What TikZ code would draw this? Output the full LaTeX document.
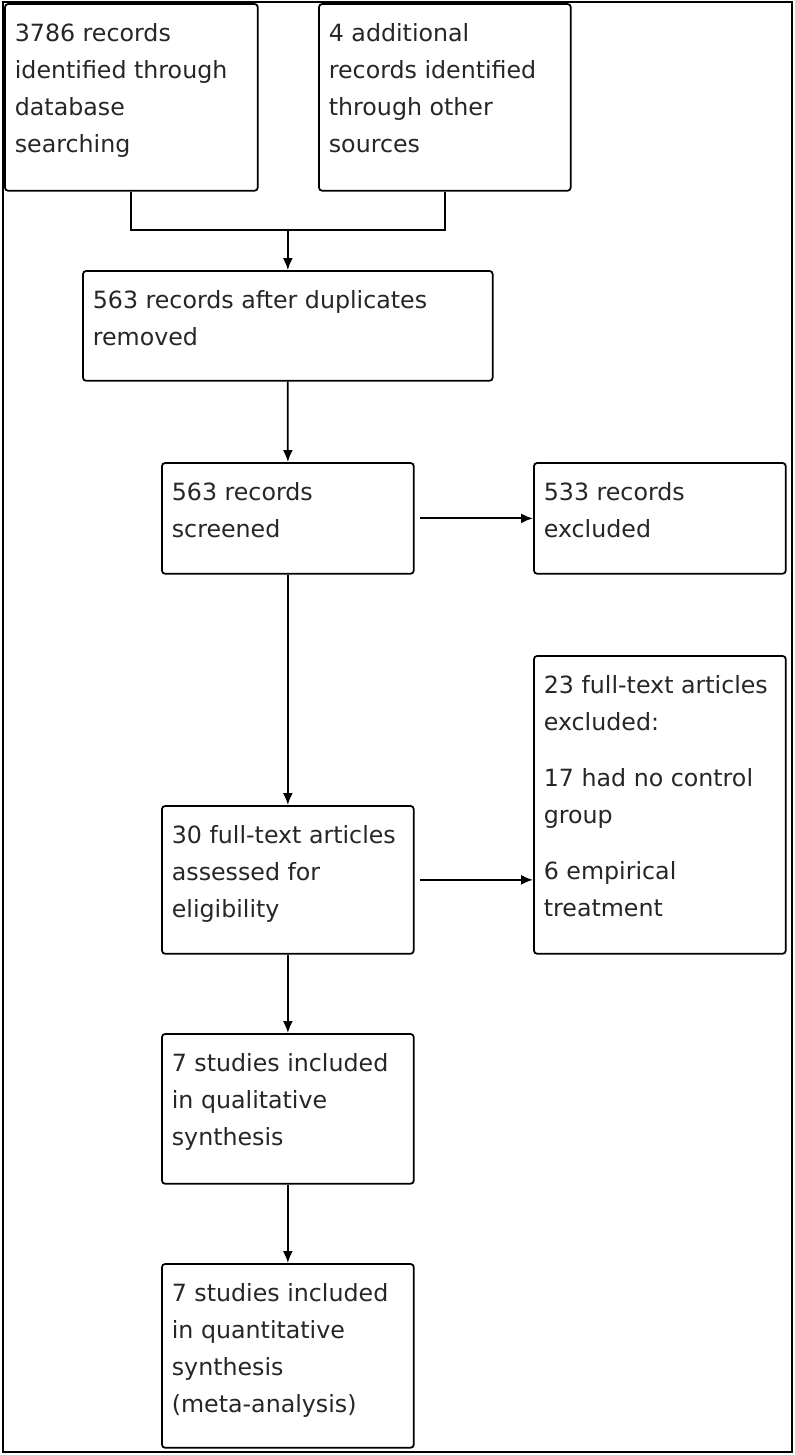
\documentclass[tikz,border=0pt]{standalone}
\usepackage{fontspec}
\setmainfont{DejaVu Sans}
\usetikzlibrary{arrows.meta}

\newcommand{\boxtxt}[3]{\parbox[c][#2][t]{#1}{\rule{0pt}{0.76cm}#3}}

\tikzset{
  box/.style={draw, line width=1pt, rounded corners=0.07cm, anchor=north west, inner xsep=0.2cm, inner ysep=0pt},
  link/.style={line width=1pt, -{Latex[length=0.24cm,width=0.2cm]}}
}

\begin{document}
\begin{tikzpicture}[x=0.02cm, y=-0.02cm, font=\fontsize{13.5pt}{21pt}\selectfont, text=black!85]
	\useasboundingbox (0,0) rectangle (795,1455);
	\draw[line width=1.6pt] (3,2) rectangle (792,1452);
	% identification
	\node[box] (src1) at (4,3) {\boxtxt{4.66cm}{3.74cm}{3786 records\\identified through\\database\\searching}};
	\node[box] (src2) at (318,3) {\boxtxt{4.64cm}{3.74cm}{4 additional\\records identified\\through other\\sources}};
	\node[box] (dedup) at (82,270) {\boxtxt{7.8cm}{2.2cm}{563 records after duplicates\\removed}};
	% screening
	\node[box] (screen) at (161,462) {\boxtxt{4.64cm}{2.22cm}{563 records\\screened}};
	\node[box] (excl1) at (533,462) {\boxtxt{4.64cm}{2.22cm}{533 records\\excluded}};
	% eligibility
	\node[box] (full) at (161,805) {\boxtxt{4.64cm}{2.96cm}{30 full-text articles\\assessed for\\eligibility}};
	\node[box] (excl2) at (533,655) {\boxtxt{4.64cm}{5.96cm}{23 full-text articles\\excluded:\\[0.38cm]17 had no control\\group\\[0.38cm]6 empirical\\treatment}};
	% included
	\node[box] (qual) at (161,1033) {\boxtxt{4.64cm}{3.0cm}{7 studies included\\in qualitative\\synthesis}};
	\node[box] (quant) at (161,1263) {\boxtxt{4.64cm}{3.68cm}{7 studies included\\in quantitative\\synthesis\\(meta-analysis)}};

	\coordinate (join) at (dedup.north |- 0,230);
	\draw[line width=1pt] (src1.south) |- (join) -| (src2.south);
	\draw[link] (join) -- (dedup.north);
	\draw[link] (dedup.south) -- (screen.north);
	\draw[link, shorten <=0.1cm] (screen.east) -- (excl1.west);
	\draw[link] (screen.south) -- (full.north);
	\draw[link, shorten <=0.1cm] (full.east) -- (full.east -| excl2.west);
	\draw[link] (full.south) -- (qual.north);
	\draw[link] (qual.south) -- (quant.north);
\end{tikzpicture}
\end{document}
